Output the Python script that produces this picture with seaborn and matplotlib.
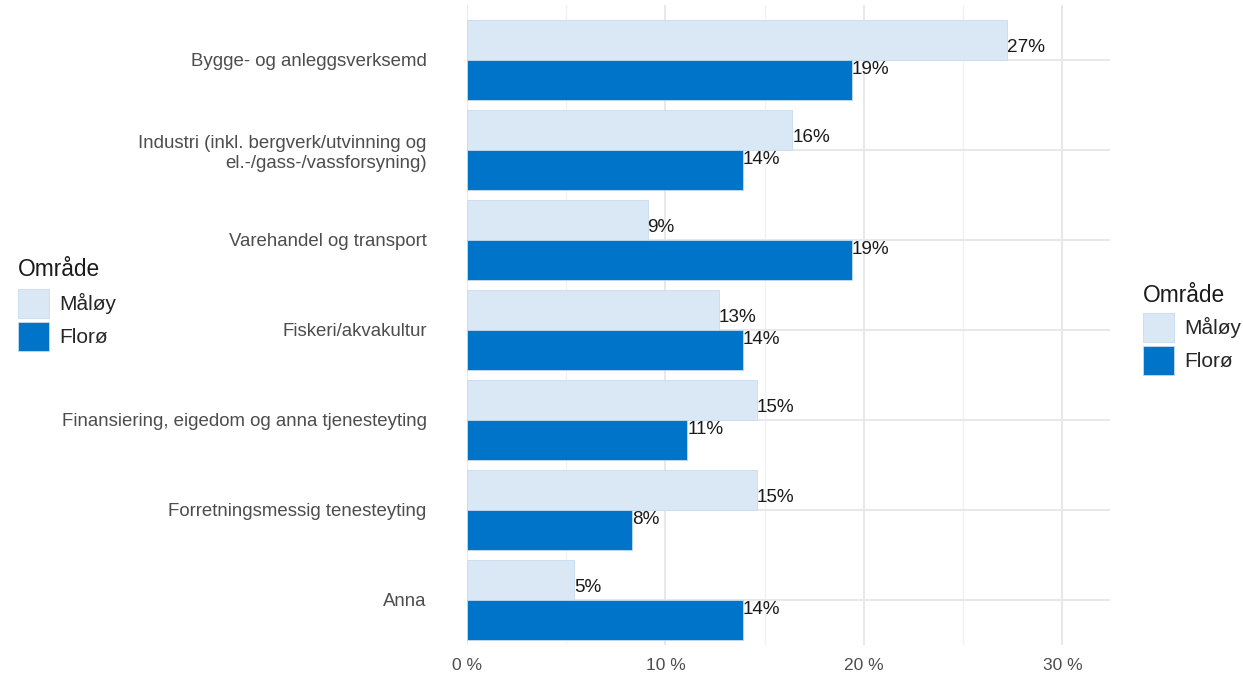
import pandas as pd
import matplotlib.pyplot as plt
import seaborn as sns
from matplotlib.patches import Patch

# Data
categories = [
    "Bygge- og anleggsverksemd",
    "Industri (inkl. bergverk/utvinning og\nel.-/gass-/vassforsyning)",
    "Varehandel og transport",
    "Fiskeri/akvakultur",
    "Finansiering, eigedom og anna tjenesteyting",
    "Forretningsmessig tenesteyting",
    "Anna",
]
maloy = [27.2, 16.4, 9.1, 12.7, 14.6, 14.6, 5.4]
floro = [19.4, 13.9, 19.4, 13.9, 11.1, 8.3, 13.9]
areas = ["Måløy", "Florø"]
colors = {"Måløy": "#dae8f6", "Florø": "#0074c8"}

df = pd.DataFrame({
    "kategori": categories * 2,
    "område": ["Måløy"] * len(categories) + ["Florø"] * len(categories),
    "andel": maloy + floro,
})

sns.set_style("white")
plt.rcParams["font.family"] = ["Liberation Sans", "DejaVu Sans"]

W, H = 1243, 675
fig = plt.figure(figsize=(W / 100, H / 100), dpi=100)
ax = fig.add_axes([467 / W, 30 / H, 643 / W, 640 / H])

# grid
for x in [5, 15, 25]:
    ax.axvline(x, color="#f2f2f2", lw=1.0, zorder=0)
for x in [0, 10, 20, 30]:
    ax.axvline(x, color="#e8e8e8", lw=1.4, zorder=0)
for i in range(len(categories)):
    ax.axhline(i, color="#e8e8e8", lw=1.4, zorder=0)

sns.barplot(data=df, y="kategori", x="andel", hue="område", hue_order=areas,
            palette=colors, saturation=1, width=0.89, gap=0, orient="h", ax=ax,
            edgecolor="#c6dcef", linewidth=0.6, zorder=2, legend=False)

# value labels
for i, (m, f) in enumerate(zip(maloy, floro)):
    ax.text(m, i - 0.135, f"{m:.0f}%", ha="left", va="center", fontsize=13.6, color="#1a1a1a", zorder=3)
    ax.text(f, i + 0.11, f"{f:.0f}%", ha="left", va="center", fontsize=13.6, color="#1a1a1a", zorder=3)

ax.set_xlim(0, 32.4)
ax.set_ylim(6.5, -0.61)
ax.set_xticks([0, 10, 20, 30])
ax.set_xticklabels(["0 %", "10 %", "20 %", "30 %"], fontsize=12.5, color="#4d4d4d")
ax.tick_params(axis="x", length=0, pad=9)
ax.tick_params(axis="y", length=0, pad=29, labelsize=13.4, labelcolor="#4d4d4d")
ax.set_xlabel("")
ax.set_ylabel("")
for s in ax.spines.values():
    s.set_visible(False)

# two legends (title drawn as separate text)
handles = [Patch(facecolor=colors[a], edgecolor="#c6dcef", linewidth=0.6) for a in areas]
for x, ytitle, ykeys in [(18, 269, 289), (1143, 295, 313)]:
    fig.text(x / W, 1 - ytitle / H, "Område", ha="left", va="center", fontsize=16.4, color="#1a1a1a")
    fig.legend(handles, areas, loc="upper left", bbox_to_anchor=(x / W, 1 - ykeys / H),
               frameon=False, fontsize=15, handlelength=1.5, handleheight=1.8,
               labelspacing=0.15, handletextpad=0.5, borderpad=0, borderaxespad=0)

fig.savefig("out.png", dpi=100)
